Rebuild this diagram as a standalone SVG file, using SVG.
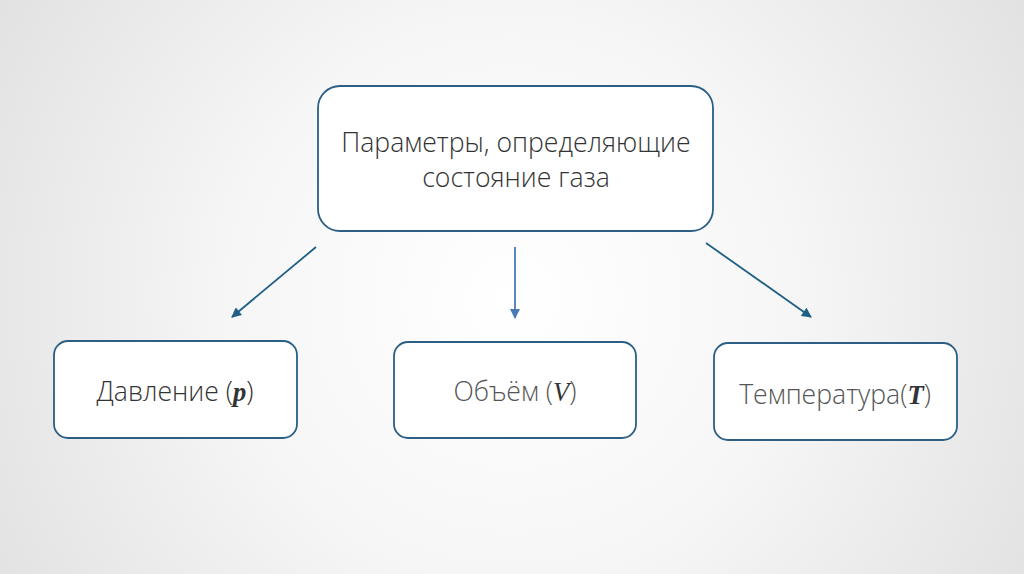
<svg xmlns="http://www.w3.org/2000/svg" width="1024" height="574" viewBox="0 0 1024 574">
<defs>
<radialGradient id="bg" cx="512" cy="300" r="620" gradientUnits="userSpaceOnUse">
<stop offset="0" stop-color="#ffffff"/>
<stop offset="0.45" stop-color="#f6f6f6"/>
<stop offset="1" stop-color="#e0e0e0"/>
</radialGradient>
<marker id="ah" viewBox="0 0 10 10" refX="9" refY="5" markerWidth="11" markerHeight="10" orient="auto" markerUnits="userSpaceOnUse">
<path d="M0,0 L10,5 L0,10 z" fill="#1f5f85"/>
</marker>
<marker id="ah2" viewBox="0 0 10 10" refX="9" refY="5" markerWidth="11" markerHeight="10" orient="auto" markerUnits="userSpaceOnUse">
<path d="M0,0 L10,5 L0,10 z" fill="#4a7ab5"/>
</marker>
</defs>
<style>
.box{fill:#ffffff;stroke:#2b5f84;stroke-width:1.8}
.t{font-family:"Open Sans","Noto Sans","DejaVu Sans",sans-serif;font-weight:300;font-size:26.6px;fill:#333;text-anchor:middle}
.m{font-family:"Liberation Serif","DejaVu Serif",serif;font-style:italic;font-weight:bold}
.c{stroke:#1f5f85;stroke-width:1.8;fill:none}
</style>
<rect width="1024" height="574" fill="url(#bg)"/>
<g id="connectors">
<line class="c" x1="316" y1="247" x2="232" y2="317" marker-end="url(#ah)"/>
<line class="c" x1="515" y1="247" x2="515" y2="318" marker-end="url(#ah2)" style="stroke:#4a7ab5"/>
<line class="c" x1="706" y1="243" x2="811" y2="317" marker-end="url(#ah)"/>
</g>
<g id="root">
<rect class="box" x="318" y="86" width="395" height="145" rx="22"/>
<text class="t" x="516" y="152">Параметры, определяющие</text>
<text class="t" x="516" y="187">состояние газа</text>
</g>
<g id="pressure">
<rect class="box" x="54" y="341" width="243" height="97" rx="14"/>
<text class="t" x="175" y="401">Давление (<tspan class="m">p</tspan>)</text>
</g>
<g id="volume">
<rect class="box" x="394" y="342" width="242" height="96" rx="14"/>
<text class="t" x="515" y="401" style="fill:#555">Объём (<tspan class="m" style="font-weight:normal;fill:#333">V</tspan>)</text>
</g>
<g id="temperature">
<rect class="box" x="714" y="343" width="243" height="97" rx="14"/>
<text class="t" x="835" y="404" style="fill:#555">Температура(<tspan class="m" style="fill:#333">T</tspan>)</text>
</g>
</svg>
